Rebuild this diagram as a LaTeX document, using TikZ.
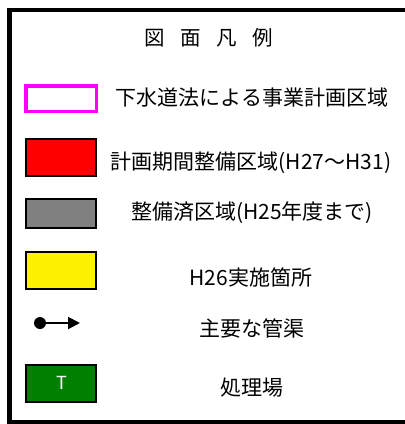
\documentclass[tikz,border=0pt]{standalone}
\usepackage{fontspec}
\setmainfont{Noto Sans CJK JP}
\usetikzlibrary{arrows.meta}
\tikzset{
  legendbox/.style={draw=black,line width=2pt,minimum width=70pt,minimum height=37pt,inner sep=0pt},
  legendtext/.style={font=\fontsize{21}{25}\selectfont,inner sep=0pt}
}
\newcommand{\titlegap}{\hspace{15.5pt}}
\begin{document}
\begin{tikzpicture}[x=1pt,y=-1pt]
        \useasboundingbox (0,0) rectangle (405,424);
        \draw[line width=4.5pt](9.5,10)rectangle(410,422.5);
        \node[font=\fontsize{20.5}{24}\selectfont,inner sep=0pt] (title) at (209,38){図\titlegap 面\titlegap 凡\titlegap 例};
        % boxes
        \node[legendbox,draw={rgb,255:red,255;green,0;blue,255},line width=3.5pt,minimum width=70.5pt,minimum height=25.5pt] (area) at (61,98.5){};
        \node[legendbox,fill=red] (plan) at (61,157.5){};
        \node[legendbox,fill={rgb,255:red,128;green,128;blue,128},minimum height=29pt] (done) at (61,213.5){};
        \node[legendbox,fill=yellow] (h26) at (61,270){};
        \node[legendbox,fill={rgb,255:red,0;green,128;blue,0}] (plant) at (61,383){};
        \node[text=white,font=\fontsize{18}{22}\selectfont,inner sep=0pt] (plantT) at (62,383){T};
        % pipe
        \node[circle,fill=black,inner sep=0pt,minimum size=12pt] (pipestart) at (40,323){};
        \coordinate (pipeend) at (80,323);
        \draw[line width=2pt,-{Triangle[length=12pt,width=12pt]}](pipestart)--(pipeend);
        % texts
        \node[legendtext] (areatext) at (252,97.5){下水道法による事業計画区域};
        \node[legendtext] (plantext) at (251,163){計画期間整備区域(H27～H31)};
        \node[legendtext] (donetext) at (252,213){整備済区域(H25年度まで)};
        \node[legendtext] (h26text) at (251,277){H26実施箇所};
        \node[legendtext] (pipetext) at (252,328){主要な管渠};
        \node[legendtext] (planttext) at (252,388){処理場};
    \end{tikzpicture}
\end{document}
